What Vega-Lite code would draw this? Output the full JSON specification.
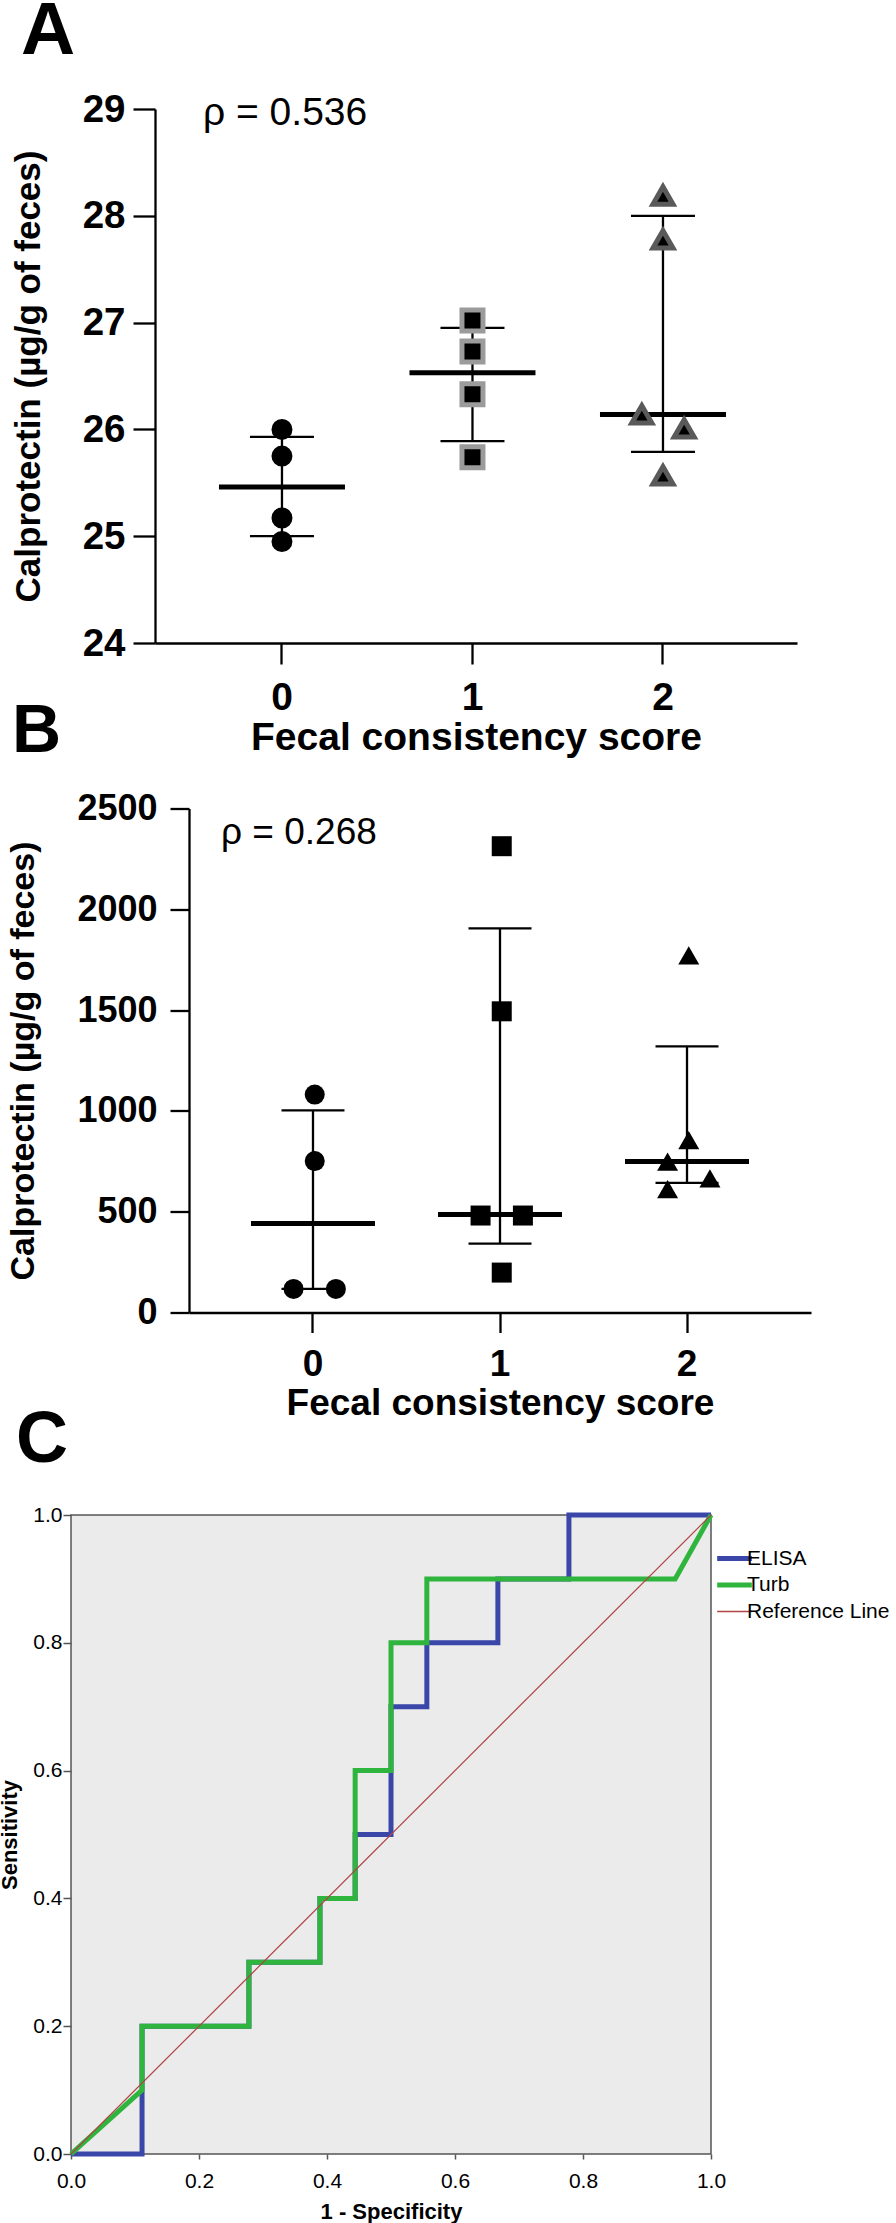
{
  "$schema": "https://vega.github.io/schema/vega-lite/v6.json",
  "padding": {"left": -2, "top": -6, "right": 0, "bottom": 0},
  "spacing": -19,
  "config": {
    "view": {"stroke": null},
    "font": "Liberation Sans",
    "axis": {"labelColor": "black", "titleColor": "black", "grid": false},
    "title": {"color": "black"},
    "legend": {"labelColor": "black"}
  },
  "datasets": {
    "A_points": [
      {"score": "0", "slot": 0, "value": 26.0},
      {"score": "0", "slot": 0, "value": 25.75},
      {"score": "0", "slot": 0, "value": 25.17},
      {"score": "0", "slot": 0, "value": 24.95},
      {"score": "1", "slot": 0, "value": 27.02},
      {"score": "1", "slot": 0, "value": 26.73},
      {"score": "1", "slot": 0, "value": 26.33},
      {"score": "1", "slot": 0, "value": 25.74},
      {"score": "2", "slot": 0, "value": 28.19},
      {"score": "2", "slot": 0, "value": 27.78},
      {"score": "2", "slot": -1, "value": 26.14},
      {"score": "2", "slot": 1, "value": 26.01},
      {"score": "2", "slot": 0, "value": 25.57}
    ],
    "A_summary": [
      {"score": "0", "q1": 25.0, "median": 25.46, "q3": 25.93},
      {"score": "1", "q1": 25.89, "median": 26.53, "q3": 26.95},
      {"score": "2", "q1": 25.79, "median": 26.14, "q3": 28.0}
    ],
    "B_points": [
      {"score": "0", "slot": 0, "value": 1081},
      {"score": "0", "slot": 0, "value": 751},
      {"score": "0", "slot": -1, "value": 117},
      {"score": "0", "slot": 1, "value": 117},
      {"score": "1", "slot": 0, "value": 2313},
      {"score": "1", "slot": 0, "value": 1494},
      {"score": "1", "slot": -1, "value": 481},
      {"score": "1", "slot": 1, "value": 481},
      {"score": "1", "slot": 0, "value": 198},
      {"score": "2", "slot": 0, "value": 1771},
      {"score": "2", "slot": 0, "value": 855},
      {"score": "2", "slot": -1, "value": 748},
      {"score": "2", "slot": 1, "value": 665},
      {"score": "2", "slot": -1, "value": 612}
    ],
    "B_summary": [
      {"score": "0", "q1": 117, "median": 441, "q3": 1003},
      {"score": "1", "q1": 342, "median": 486, "q3": 1905},
      {"score": "2", "q1": 643, "median": 749, "q3": 1320}
    ],
    "notes": [
      {"panel": "A", "score": "0", "value": 29, "label": "ρ = 0.536"},
      {"panel": "B", "score": "0", "value": 2500, "label": "ρ = 0.268"}
    ],
    "roc": [
      {"series": "ELISA", "i": 0, "fpr": 0, "tpr": 0},
      {"series": "ELISA", "i": 1, "fpr": 0.111, "tpr": 0},
      {"series": "ELISA", "i": 2, "fpr": 0.111, "tpr": 0.2},
      {"series": "ELISA", "i": 3, "fpr": 0.278, "tpr": 0.2},
      {"series": "ELISA", "i": 4, "fpr": 0.278, "tpr": 0.3},
      {"series": "ELISA", "i": 5, "fpr": 0.389, "tpr": 0.3},
      {"series": "ELISA", "i": 6, "fpr": 0.389, "tpr": 0.4},
      {"series": "ELISA", "i": 7, "fpr": 0.444, "tpr": 0.4},
      {"series": "ELISA", "i": 8, "fpr": 0.444, "tpr": 0.5},
      {"series": "ELISA", "i": 9, "fpr": 0.5, "tpr": 0.5},
      {"series": "ELISA", "i": 10, "fpr": 0.5, "tpr": 0.7},
      {"series": "ELISA", "i": 11, "fpr": 0.556, "tpr": 0.7},
      {"series": "ELISA", "i": 12, "fpr": 0.556, "tpr": 0.8},
      {"series": "ELISA", "i": 13, "fpr": 0.667, "tpr": 0.8},
      {"series": "ELISA", "i": 14, "fpr": 0.667, "tpr": 0.9},
      {"series": "ELISA", "i": 15, "fpr": 0.778, "tpr": 0.9},
      {"series": "ELISA", "i": 16, "fpr": 0.778, "tpr": 1.0},
      {"series": "ELISA", "i": 17, "fpr": 1.0, "tpr": 1.0},
      {"series": "Turb", "i": 0, "fpr": 0, "tpr": 0},
      {"series": "Turb", "i": 1, "fpr": 0.111, "tpr": 0.1},
      {"series": "Turb", "i": 2, "fpr": 0.111, "tpr": 0.2},
      {"series": "Turb", "i": 3, "fpr": 0.278, "tpr": 0.2},
      {"series": "Turb", "i": 4, "fpr": 0.278, "tpr": 0.3},
      {"series": "Turb", "i": 5, "fpr": 0.389, "tpr": 0.3},
      {"series": "Turb", "i": 6, "fpr": 0.389, "tpr": 0.4},
      {"series": "Turb", "i": 7, "fpr": 0.444, "tpr": 0.4},
      {"series": "Turb", "i": 8, "fpr": 0.444, "tpr": 0.6},
      {"series": "Turb", "i": 9, "fpr": 0.5, "tpr": 0.6},
      {"series": "Turb", "i": 10, "fpr": 0.5, "tpr": 0.8},
      {"series": "Turb", "i": 11, "fpr": 0.556, "tpr": 0.8},
      {"series": "Turb", "i": 12, "fpr": 0.556, "tpr": 0.9},
      {"series": "Turb", "i": 13, "fpr": 0.944, "tpr": 0.9},
      {"series": "Turb", "i": 14, "fpr": 1.0, "tpr": 1.0},
      {"series": "Reference Line", "i": 0, "fpr": 0, "tpr": 0},
      {"series": "Reference Line", "i": 1, "fpr": 1, "tpr": 1}
    ]
  },
  "vconcat": [
    {
      "spacing": -59.5,
      "vconcat": [
        {
          "bounds": "flush",
          "spacing": 0,
          "hconcat": [
            {"width": 84, "height": 1, "data": {"values": []}, "mark": {"type": "point", "opacity": 0}},
            {
              "width": 642,
              "height": 534,
              "title": {"text": "A", "anchor": "start", "frame": "group", "fontSize": 75, "fontWeight": "bold", "dx": -134, "offset": -39, "baseline": "alphabetic"},
              "encoding": {
                "x": {
                  "field": "score", "type": "ordinal", "title": "Fecal consistency score",
                  "scale": {"type": "band", "domain": ["0", "1", "2"], "paddingInner": 0, "paddingOuter": 0.185, "align": 0.45},
                  "axis": {"labelAngle": 0, "domainColor": "black", "domainWidth": 2.3, "tickColor": "black", "tickWidth": 2.3, "tickSize": 21, "labelFontSize": 39, "labelFontWeight": "bold", "labelPadding": 14, "titleFontSize": 39, "titleFontWeight": "bold", "titlePadding": 1}
                }
              },
              "layer": [
                {
                  "data": {"name": "A_summary"},
                  "mark": {"type": "rule", "color": "black", "strokeWidth": 2.3},
                  "encoding": {
                    "y": {"field": "q1", "type": "quantitative", "title": "Calprotectin (µg/g of feces)",
                      "scale": {"domain": [24, 29], "nice": false, "zero": false},
                      "axis": {"values": [24, 25, 26, 27, 28, 29], "format": "d", "domainColor": "black", "domainWidth": 2.3, "tickColor": "black", "tickWidth": 2.3, "tickSize": 22, "labelFontSize": 38.5, "labelFontWeight": "bold", "labelPadding": 8, "titleFontSize": 35, "titleFontWeight": "bold", "titlePadding": 36}},
                    "y2": {"field": "q3"}
                  }
                },
                {
                  "data": {"name": "A_summary"},
                  "mark": {"type": "tick", "color": "black", "size": 64, "thickness": 2.3, "opacity": 1},
                  "encoding": {"y": {"field": "q1", "type": "quantitative", "title": "Calprotectin (µg/g of feces)"}}
                },
                {
                  "data": {"name": "A_summary"},
                  "mark": {"type": "tick", "color": "black", "size": 64, "thickness": 2.3, "opacity": 1},
                  "encoding": {"y": {"field": "q3", "type": "quantitative", "title": "Calprotectin (µg/g of feces)"}}
                },
                {
                  "data": {"name": "A_summary"},
                  "mark": {"type": "tick", "color": "black", "size": 126, "thickness": 5, "opacity": 1},
                  "encoding": {"y": {"field": "median", "type": "quantitative", "title": "Calprotectin (µg/g of feces)"}}
                },
                {
                  "data": {"name": "A_points"},
                  "transform": [{"filter": "datum.score === '0'"}],
                  "mark": {"type": "point", "shape": "circle", "size": 256, "filled": true, "fill": "black", "stroke": "black", "strokeWidth": 5, "opacity": 1},
                  "encoding": {
                    "y": {"field": "value", "type": "quantitative", "title": "Calprotectin (µg/g of feces)"},
                    "xOffset": {"field": "slot", "type": "quantitative", "scale": {"domain": [-4.5, 4.5]}}
                  }
                },
                {
                  "data": {"name": "A_points"},
                  "transform": [{"filter": "datum.score === '1'"}],
                  "mark": {"type": "point", "shape": "square", "size": 441, "filled": true, "fill": "black", "stroke": "#9b9b9b", "strokeWidth": 5, "opacity": 1},
                  "encoding": {
                    "y": {"field": "value", "type": "quantitative", "title": "Calprotectin (µg/g of feces)"},
                    "xOffset": {"field": "slot", "type": "quantitative", "scale": {"domain": [-4.5, 4.5]}}
                  }
                },
                {
                  "data": {"name": "A_points"},
                  "transform": [{"filter": "datum.score === '2'"}],
                  "mark": {"type": "point", "shape": "triangle-up", "size": 400, "filled": true, "fill": "black", "stroke": "#5a5a5a", "strokeWidth": 5, "opacity": 1},
                  "encoding": {
                    "y": {"field": "value", "type": "quantitative", "title": "Calprotectin (µg/g of feces)"},
                    "xOffset": {"field": "slot", "type": "quantitative", "scale": {"domain": [-4.5, 4.5]}}
                  }
                },
                {
                  "data": {"name": "notes"},
                  "transform": [{"filter": "datum.panel === 'A'"}],
                  "mark": {"type": "text", "align": "left", "baseline": "middle", "dx": -79, "dy": 4, "fontSize": 39, "color": "black"},
                  "encoding": {
                    "y": {"field": "value", "type": "quantitative", "title": "Calprotectin (µg/g of feces)"},
                    "text": {"field": "label"}
                  }
                }
              ]
            }
          ]
        },
        {
          "bounds": "flush",
          "spacing": 0,
          "hconcat": [
            {"width": 118, "height": 1, "data": {"values": []}, "mark": {"type": "point", "opacity": 0}},
            {
              "width": 622,
              "height": 504,
              "title": {"text": "B", "anchor": "start", "frame": "group", "fontSize": 68, "fontWeight": "bold", "dx": -177, "offset": -29, "baseline": "alphabetic"},
              "encoding": {
                "x": {
                  "field": "score", "type": "ordinal", "title": "Fecal consistency score",
                  "scale": {"type": "band", "domain": ["0", "1", "2"], "paddingInner": 0, "paddingOuter": 0.163, "align": 0.5},
                  "axis": {"labelAngle": 0, "domainColor": "black", "domainWidth": 2.3, "tickColor": "black", "tickWidth": 2.3, "tickSize": 20, "labelFontSize": 37, "labelFontWeight": "bold", "labelPadding": 14, "titleFontSize": 37, "titleFontWeight": "bold", "titlePadding": 3}
                }
              },
              "layer": [
                {
                  "data": {"name": "B_summary"},
                  "mark": {"type": "rule", "color": "black", "strokeWidth": 2.3},
                  "encoding": {
                    "y": {"field": "q1", "type": "quantitative", "title": "Calprotectin (µg/g of feces)",
                      "scale": {"domain": [0, 2500], "nice": false, "zero": true},
                      "axis": {"values": [0, 500, 1000, 1500, 2000, 2500], "format": "d", "domainColor": "black", "domainWidth": 2.3, "tickColor": "black", "tickWidth": 2.3, "tickSize": 19, "labelFontSize": 36, "labelFontWeight": "bold", "labelPadding": 13, "titleFontSize": 34, "titleFontWeight": "bold", "titlePadding": 36}},
                    "y2": {"field": "q3"}
                  }
                },
                {
                  "data": {"name": "B_summary"},
                  "mark": {"type": "tick", "color": "black", "size": 63, "thickness": 2.3, "opacity": 1},
                  "encoding": {"y": {"field": "q1", "type": "quantitative", "title": "Calprotectin (µg/g of feces)"}}
                },
                {
                  "data": {"name": "B_summary"},
                  "mark": {"type": "tick", "color": "black", "size": 63, "thickness": 2.3, "opacity": 1},
                  "encoding": {"y": {"field": "q3", "type": "quantitative", "title": "Calprotectin (µg/g of feces)"}}
                },
                {
                  "data": {"name": "B_summary"},
                  "mark": {"type": "tick", "color": "black", "size": 124, "thickness": 5, "opacity": 1},
                  "encoding": {"y": {"field": "median", "type": "quantitative", "title": "Calprotectin (µg/g of feces)"}}
                },
                {
                  "data": {"name": "B_points"},
                  "transform": [{"filter": "datum.score === '0'"}],
                  "mark": {"type": "point", "shape": "circle", "size": 400, "filled": true, "fill": "black", "opacity": 1},
                  "encoding": {
                    "y": {"field": "value", "type": "quantitative", "title": "Calprotectin (µg/g of feces)"},
                    "xOffset": {"field": "slot", "type": "quantitative", "scale": {"domain": [-4.5, 4.5]}}
                  }
                },
                {
                  "data": {"name": "B_points"},
                  "transform": [{"filter": "datum.score === '1'"}],
                  "mark": {"type": "point", "shape": "square", "size": 400, "filled": true, "fill": "black", "opacity": 1},
                  "encoding": {
                    "y": {"field": "value", "type": "quantitative", "title": "Calprotectin (µg/g of feces)"},
                    "xOffset": {"field": "slot", "type": "quantitative", "scale": {"domain": [-4.5, 4.5]}}
                  }
                },
                {
                  "data": {"name": "B_points"},
                  "transform": [{"filter": "datum.score === '2'"}],
                  "mark": {"type": "point", "shape": "triangle-up", "size": 441, "filled": true, "fill": "black", "opacity": 1},
                  "encoding": {
                    "y": {"field": "value", "type": "quantitative", "title": "Calprotectin (µg/g of feces)"},
                    "xOffset": {"field": "slot", "type": "quantitative", "scale": {"domain": [-4.5, 4.5]}}
                  }
                },
                {
                  "data": {"name": "notes"},
                  "transform": [{"filter": "datum.panel === 'B'"}],
                  "mark": {"type": "text", "align": "left", "baseline": "middle", "dx": -92, "dy": 24, "fontSize": 37, "color": "black"},
                  "encoding": {
                    "y": {"field": "value", "type": "quantitative", "title": "Calprotectin (µg/g of feces)"},
                    "text": {"field": "label"}
                  }
                }
              ]
            }
          ]
        }
      ]
    },
    {
      "width": 640,
      "height": 639,
      "view": {"fill": "#ebebeb", "stroke": "#555555", "strokeWidth": 1.5},
      "title": {"text": "C", "anchor": "start", "frame": "group", "fontSize": 72, "fontWeight": "bold", "dx": -55, "offset": -30, "baseline": "alphabetic"},
      "data": {"name": "roc"},
      "encoding": {
        "x": {"field": "fpr", "type": "quantitative", "title": "1 - Specificity",
          "scale": {"domain": [0, 1], "nice": false, "zero": false},
          "axis": {"values": [0, 0.2, 0.4, 0.6, 0.8, 1], "format": ".1f", "labelFlush": false, "labelOverlap": false, "domain": false, "tickColor": "#555555", "tickWidth": 1.5, "tickSize": 5, "labelFontSize": 21, "labelPadding": 11, "titleFontSize": 22, "titleFontWeight": "bold", "titlePadding": 10}},
        "y": {"field": "tpr", "type": "quantitative", "title": "Sensitivity",
          "scale": {"domain": [0, 1], "nice": false, "zero": false},
          "axis": {"values": [0, 0.2, 0.4, 0.6, 0.8, 1], "format": ".1f", "labelFlush": false, "labelOverlap": false, "domain": false, "tickColor": "#555555", "tickWidth": 1.5, "tickSize": 8, "labelFontSize": 21, "labelPadding": 1, "titleFontSize": 22, "titleFontWeight": "bold", "titlePadding": 11}},
        "order": {"field": "i", "type": "quantitative"},
        "color": {"field": "series", "type": "nominal",
          "scale": {"domain": ["ELISA", "Turb", "Reference Line"], "range": ["#3a47a8", "#2fb53d", "#b04446"]},
          "legend": {"title": null, "orient": "none", "legendX": 653, "legendY": 1439, "padding": 0, "symbolType": "stroke", "symbolSize": 1200, "labelFontSize": 21, "labelOffset": 2, "rowPadding": 4.5,
            "encode": {"symbols": {"update": {"strokeWidth": {"signal": "datum.value === 'Reference Line' ? 1.5 : 5"}}}}}
        }
      },
      "layer": [
        {"transform": [{"filter": "datum.series === 'ELISA'"}], "mark": {"type": "line", "strokeWidth": 5}},
        {"transform": [{"filter": "datum.series === 'Turb'"}], "mark": {"type": "line", "strokeWidth": 5}},
        {"transform": [{"filter": "datum.series === 'Reference Line'"}], "mark": {"type": "line", "strokeWidth": 1.2}}
      ]
    }
  ]
}
